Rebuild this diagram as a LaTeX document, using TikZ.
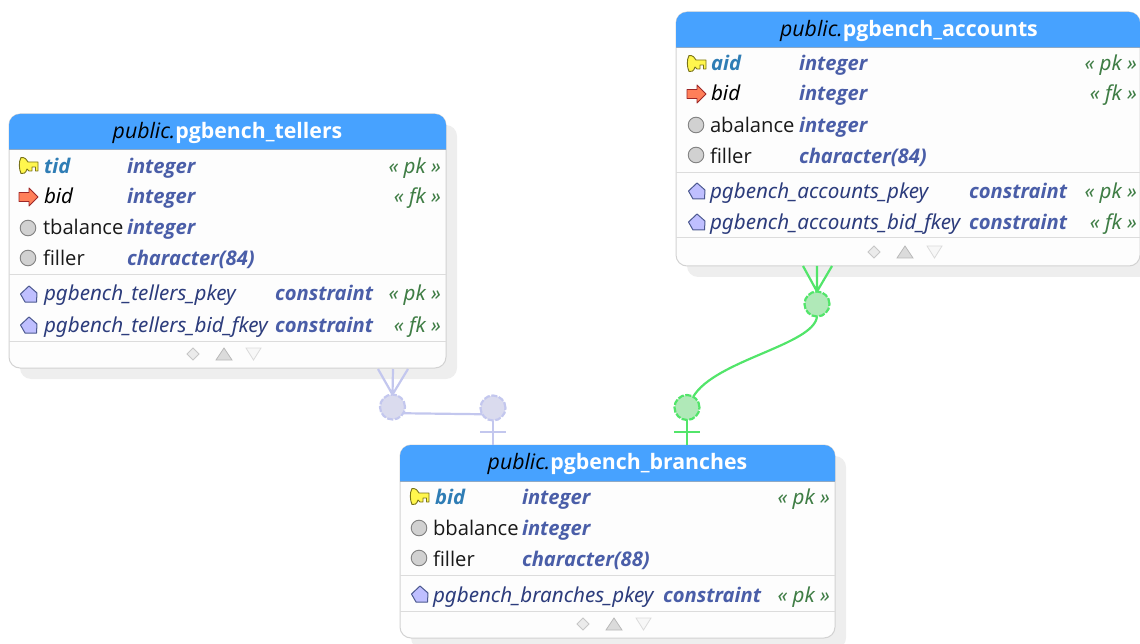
\documentclass[tikz,border=0pt]{standalone}
\usepackage{fontspec}
\setmainfont{Open Sans}
\newfontfamily\widefont{Noto Sans}
\usetikzlibrary{positioning}
\definecolor{hdr}{HTML}{47A2FF}
\definecolor{hdrline}{HTML}{8FA9C4}
\definecolor{boxline}{HTML}{D2D2D2}
\definecolor{boxfill}{HTML}{FDFDFD}
\definecolor{shade}{HTML}{EEEEEE}
\definecolor{sepline}{HTML}{DCDCDC}
\definecolor{pkcol}{HTML}{2F7DB5}
\definecolor{typecol}{HTML}{4A5EA8}
\definecolor{conscol}{HTML}{2C3C7C}
\definecolor{stereo}{HTML}{3F7D45}
\definecolor{bluelink}{HTML}{C3C7EE}
\definecolor{bluefill}{HTML}{DADBEE}
\definecolor{greenlink}{HTML}{52E56A}
\definecolor{greenfill}{HTML}{B0E9B8}
\newcommand{\fs}{\fontsize{20.2}{22}\selectfont}
\newcommand{\fw}{\widefont\fontsize{20.6}{22}\selectfont}
\tikzset{
  cell/.style={inner sep=0pt,outer sep=0pt,anchor=base west,font=\fs},
  pkname/.style={cell,text=pkcol,font=\fs\bfseries\itshape},
  fkname/.style={cell,text=black,font=\fw\itshape},
  plainname/.style={cell,text=black!90},
  typename/.style={cell,text=typecol,font=\fs\bfseries\itshape},
  consname/.style={cell,text=conscol,font=\fw\itshape},
  stereotype/.style={cell,anchor=base east,text=stereo,font=\fw\itshape},
  tabletitle/.style={inner sep=0pt,outer sep=0pt,anchor=base,font=\fontsize{21.3}{24}\selectfont},
  tablebox/.style={draw=boxline,line width=1pt,fill=boxfill,rounded corners=11pt,inner sep=0pt,outer sep=0pt,anchor=north west},
  shadowbox/.style={fill=shade,rounded corners=11pt},
  sep/.style={draw=sepline,line width=1pt},
  bluecon/.style={draw=bluelink,line width=2.2pt},
  greencon/.style={draw=greenlink,line width=2.2pt},
  bluedot/.style={circle,minimum size=25pt,inner sep=0pt,outer sep=0pt,draw=bluelink,fill=bluefill,line width=2.2pt,dash pattern=on 6pt off 1.6pt},
  greendot/.style={circle,minimum size=25pt,inner sep=0pt,outer sep=0pt,draw=greenlink,fill=greenfill,line width=2.2pt,dash pattern=on 6pt off 1.6pt},
}
% icons
\newcommand{\keyicon}[2]{\begin{scope}[shift={(#1,#2)}]
 \fill[fill=yellow!70!white,draw=olive!80!black,line width=0.9pt,line join=round]
 (-7,-8.5) .. controls (-3,-9) and (-1,-6) .. (0,-4) -- (10,-4) -- (10,5) -- (7.5,5) -- (7.5,1) -- (4,1) -- (4,5) -- (1,5) -- (-1,3)
 .. controls (-2,7) and (-5,8.5) .. (-7,7.5) .. controls (-9,3) and (-9.5,-4) .. (-7,-8.5) -- cycle;
\end{scope}}
\newcommand{\fkicon}[2]{\begin{scope}[shift={(#1,#2)}]
 \fill[fill=orange!45!red!65!white,draw=red!55!black!85,line width=0.9pt,line join=round]
 (-9,-4.5) -- (1,-4.5) -- (1,-9) -- (10,0) -- (1,9) -- (1,4.5) -- (-9,4.5) -- cycle;
\end{scope}}
\newcommand{\attricon}[2]{\fill[fill=black!18,draw=black!50,line width=0.9pt] (#1,#2) circle (7.8pt);}
\newcommand{\consicon}[2]{\begin{scope}[shift={(#1,#2)}]
 \fill[fill=blue!25!white,draw=conscol!85,line width=1pt,line join=round]
 (-8.5,0) -- (0,-8) -- (8,-1) -- (7.5,8) -- (-4,8) -- cycle;
\end{scope}}
\newcommand{\footicons}[2]{\begin{scope}[shift={(#1,#2)}]
 \fill[fill=black!8,draw=black!22,line width=0.8pt] (-6,0) -- (0,-6) -- (6,0) -- (0,6) -- cycle;
 \fill[fill=black!14,draw=black!28,line width=0.8pt] (23,6) -- (31,-6) -- (39,6) -- cycle;
 \fill[fill=black!3,draw=black!14,line width=0.8pt] (53,-6) -- (68,-6) -- (60.5,6) -- cycle;
\end{scope}}
\newcommand{\hdrshape}[4]{\fill[hdr] (#1,#3) [rounded corners=11pt] -- (#1,#4) -- (#2,#4) [sharp corners] -- (#2,#3) -- cycle;
 \draw[hdrline,line width=1pt] (#1,#3) -- (#2,#3);}
\begin{document}
\begin{tikzpicture}[x=1pt,y=-1pt]
\useasboundingbox (0,0) rectangle (1140,644);
\clip (0,0) rectangle (1140,644);
\node[bluedot] (bc1) at (392.5,407) {};
\node[bluedot] (bc2) at (493,408) {};
\node[greendot] (gc1) at (817,304) {};
\node[greendot] (gc2) at (687,407.5) {};
% ---------- tellers
\fill[shadowbox] (20,125) rectangle (457,379);
\node[tablebox,minimum width=437pt,minimum height=254pt] (tellers) at (9,114) {};
\hdrshape{9}{446}{150}{114}
\node[tabletitle] (tellerstitle) at (227.5,138.5) {\textit{public.}\textcolor{white}{\bfseries pgbench\_tellers}};
\keyicon{28}{166}\node[pkname] (t1) at (44,174) {tid};
\node[typename] (t1t) at (127,174) {integer};
\node[stereotype] (t1s) at (441,174) {« pk »};
\fkicon{28}{197}\node[fkname] (t2) at (44,204) {bid};
\node[typename] (t2t) at (127,204) {integer};
\node[stereotype] (t2s) at (441,204) {« fk »};
\attricon{28}{228}\node[plainname] (t3) at (43,235) {tbalance};
\node[typename] (t3t) at (127,235) {integer};
\attricon{28}{258}\node[plainname] (t4) at (43,266) {filler};
\node[typename] (t4t) at (127,266) {character(84)};
\draw[sep] (9,275) -- (446,275);
\consicon{29}{294}\node[consname] (t5) at (44,301) {pgbench\_tellers\_pkey};
\node[typename] (t5t) at (275,301) {constraint};
\node[stereotype] (t5s) at (441,301) {« pk »};
\consicon{29}{325}\node[consname] (t6) at (44,332.5) {pgbench\_tellers\_bid\_fkey};
\node[typename] (t6t) at (275,332.5) {constraint};
\node[stereotype] (t6s) at (441,332.5) {« fk »};
\draw[sep] (9,341) -- (446,341);
\footicons{193}{354}
% ---------- accounts
\fill[shadowbox] (687,23) rectangle (1160,277);
\node[tablebox,minimum width=464pt,minimum height=254pt] (accounts) at (676,12) {};
\hdrshape{676}{1140}{48}{12}
\node[tabletitle] (accountstitle) at (909,36.5) {\textit{public.}\textcolor{white}{\bfseries pgbench\_accounts}};
\keyicon{696}{64}\node[pkname] (a1) at (711,71) {aid};
\node[typename] (a1t) at (799,71) {integer};
\node[stereotype] (a1s) at (1137,71) {« pk »};
\fkicon{696}{94}\node[fkname] (a2) at (711,101) {bid};
\node[typename] (a2t) at (799,101) {integer};
\node[stereotype] (a2s) at (1137,101) {« fk »};
\attricon{696}{125}\node[plainname] (a3) at (710,132.5) {abalance};
\node[typename] (a3t) at (799,132.5) {integer};
\attricon{696}{155}\node[plainname] (a4) at (710,163.5) {filler};
\node[typename] (a4t) at (799,163.5) {character(84)};
\draw[sep] (676,173) -- (1140,173);
\consicon{697}{191}\node[consname] (a5) at (710,198.5) {pgbench\_accounts\_pkey};
\node[typename] (a5t) at (969,198.5) {constraint};
\node[stereotype] (a5s) at (1137,198.5) {« pk »};
\consicon{697}{222}\node[consname] (a6) at (710,229.5) {pgbench\_accounts\_bid\_fkey};
\node[typename] (a6t) at (969,229.5) {constraint};
\node[stereotype] (a6s) at (1137,229.5) {« fk »};
\draw[sep] (676,238) -- (1140,238);
\footicons{874}{252}
% ---------- branches
\fill[shadowbox] (411,456) rectangle (846,649);
\node[tablebox,minimum width=435pt,minimum height=193pt] (branches) at (400,445) {};
\hdrshape{400}{835}{481}{445}
\node[tabletitle] (branchestitle) at (617.5,469.5) {\textit{public.}\textcolor{white}{\bfseries pgbench\_branches}};
\keyicon{419}{497}\node[pkname] (b1) at (435,504.5) {bid};
\node[typename] (b1t) at (522,504.5) {integer};
\node[stereotype] (b1s) at (830,504.5) {« pk »};
\attricon{419}{528}\node[plainname] (b2) at (433,535) {bbalance};
\node[typename] (b2t) at (522,535) {integer};
\attricon{419}{558}\node[plainname] (b3) at (433,566) {filler};
\node[typename] (b3t) at (522,566) {character(88)};
\draw[sep] (400,575) -- (835,575);
\consicon{420}{594}\node[consname] (b4) at (433,602) {pgbench\_branches\_pkey};
\node[typename] (b4t) at (663,602) {constraint};
\node[stereotype] (b4s) at (830,602) {« pk »};
\draw[sep] (400,611) -- (835,611);
\footicons{583}{624}
% ---------- connector ends
\coordinate (bf1) at (378,369); \coordinate (bf2) at (393,369); \coordinate (bf3) at (408,369);
\coordinate (btop) at (493,445); \coordinate (bxl) at (480,432); \coordinate (bxr) at (506,432);
\coordinate (gf1) at (803,266); \coordinate (gf2) at (817,266); \coordinate (gf3) at (832,266);
\coordinate (gtop) at (687,445); \coordinate (gxl) at (674,432); \coordinate (gxr) at (700,432);
\draw[bluecon] (bf1) -- (bc1.north) (bf2) -- (bc1.north) (bf3) -- (bc1.north);
\draw[bluecon] (bc1.-30) -- (bc2.-150);
\draw[bluecon] (bc2.south) -- (btop) (bxl) -- (bxr);
\draw[greencon] (gc1.south) .. controls (814,345) and (715,360) .. (gc2.60);
\draw[greencon] (gf1) -- (gc1.north) (gf2) -- (gc1.north) (gf3) -- (gc1.north);
\draw[greencon] (gc2.south) -- (gtop) (gxl) -- (gxr);
\end{tikzpicture}
\end{document}
